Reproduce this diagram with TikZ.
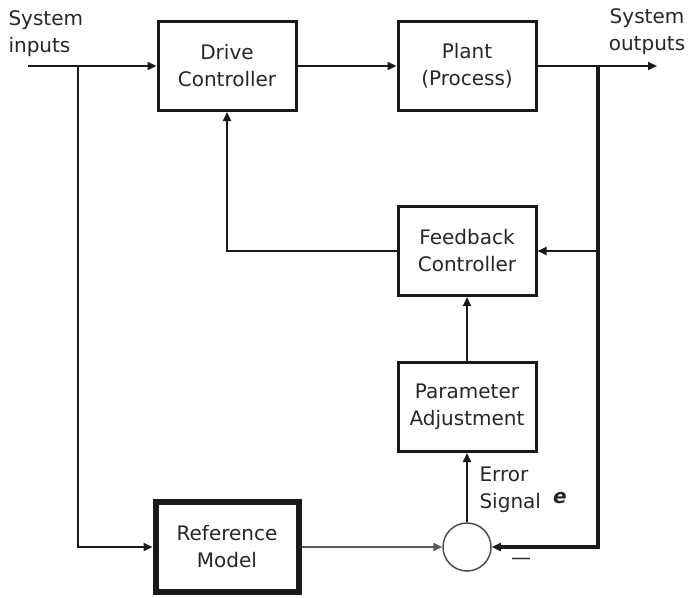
\documentclass[tikz,border=0pt]{standalone}
\usepackage{fontspec}
\setmainfont{DejaVu Sans}
\usetikzlibrary{arrows.meta}

\begin{document}
\begin{tikzpicture}[x=1pt,y=-1pt,
  every node/.style={font=\fontsize{20}{27}\selectfont,text=black!85},
  block/.style={draw=black!90,line width=3pt,minimum width=138pt,minimum height=89pt,align=center,inner sep=0pt},
  refblock/.style={block,line width=6pt,minimum width=143pt,minimum height=90pt},
  junction/.style={circle,draw=black!70,line width=1.5pt,minimum size=48pt,inner sep=0pt},
  wire/.style={draw=black!90,line width=1.8pt,-{Triangle[length=9pt,width=8pt]}}]
  \useasboundingbox (0,0) rectangle (692,597);
  \node[block] (drive) at (227,66) {Drive\\Controller};
  \node[block] (plant) at (467,66) {Plant\\(Process)};
  \node[block] (feedback) at (467,251) {Feedback\\Controller};
  \node[block] (param) at (467,407) {Parameter\\Adjustment};
  \node[refblock] (refmodel) at (227,547) {Reference\\Model};
  \node[junction] (sum) at (467,547) {};
  \coordinate (in) at (28,66);
  \coordinate (out) at (657,66);
  \coordinate (split) at (78,66);
  \coordinate (tap) at (598,66);
  \node[align=left,anchor=west] (inlabel) at (5,34) {System\\inputs};
  \node[align=center] (outlabel) at (647,32) {System\\outputs};
  \node[align=left,anchor=west] (errlabel) at (476,490) {Error\\Signal};
  \node (esym) at (560,498) {\textbf{\textit{e}}};
  \node (minus) at (521,561) {\textemdash};
  \draw[wire] (in) -- (drive.west);
  \draw[wire] (drive) -- (plant);
  \draw[wire] (plant) -- (out);
  \draw[wire] (split) |- (refmodel.west);
  \draw[wire,line width=3.5pt] (tap) |- (sum.east);
  \draw[wire] (tap |- feedback) -- (feedback.east);
  \draw[wire] (feedback.west) -| (drive.south);
  \draw[wire] (sum) -- (param);
  \draw[wire] (param) -- (feedback);
  \draw[wire,draw=black!65] (refmodel) -- (sum.west);
\end{tikzpicture}
\end{document}
